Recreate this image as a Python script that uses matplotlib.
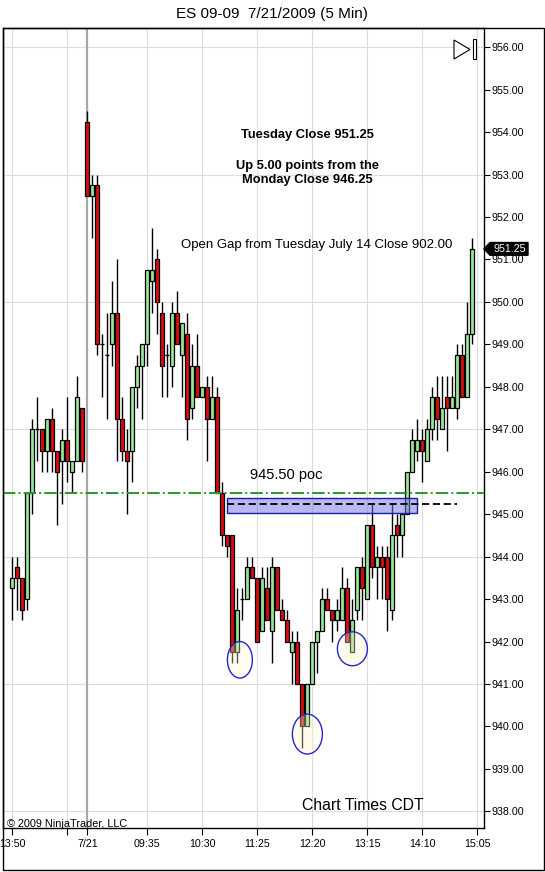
import numpy as np
import matplotlib
matplotlib.use('Agg')
import matplotlib.pyplot as plt
import matplotlib.transforms as mtrans
from matplotlib.patches import Rectangle, Ellipse, Polygon

plt.rcParams['font.family'] = ['Liberation Sans', 'DejaVu Sans']

# ES 09-09, 5 min bars: 13:50 (7/20) .. 15:00 (7/21)
opens = [943.25, 943.75, 943.5, 943.0, 945.5, 947.0, 947.0, 946.5, 947.25, 946.5,
         946.25, 946.75, 946.0, 946.25, 947.5,
         954.25, 952.5, 952.75, 949.0, 948.75, 949.0, 949.75, 947.25, 946.5, 946.5,
         948.0, 948.5, 949.0, 950.5, 951.0, 949.75, 948.75, 948.5, 949.75, 948.75,
         949.25, 947.5, 948.5, 947.75, 948.0, 947.25, 947.75, 945.5, 944.5, 944.5,
         941.75, 943.0, 943.0, 943.75, 943.5, 942.25, 943.25, 942.25, 943.75, 942.75,
         942.5, 941.75, 942.0, 941.0, 940.0, 941.0, 942.0, 942.25, 943.0, 942.75,
         942.5, 942.5, 943.25, 941.75, 942.75, 943.75, 943.0, 944.75, 943.75, 944.0,
         944.0, 942.75, 944.75, 944.5, 945.0, 946.0, 946.5, 946.75, 946.25, 947.0,
         947.75, 947.0, 947.75, 947.5, 947.5, 948.75, 947.75, 949.25]
highs = [944.0, 944.0, 943.5, 945.5, 947.25, 947.75, 947.0, 947.25, 947.5, 946.5,
         947.0, 947.75, 946.25, 948.25, 947.5,
         954.5, 953.0, 953.0, 949.25, 949.75, 950.5, 951.0, 947.75, 947.0, 948.0,
         948.75, 949.0, 950.75, 951.75, 951.25, 950.0, 949.0, 950.0, 950.25, 949.5,
         949.75, 949.0, 949.25, 948.0, 948.25, 948.25, 948.0, 945.75, 944.5, 944.5,
         943.25, 943.25, 944.0, 944.0, 943.5, 943.75, 943.75, 944.0, 943.75, 943.0,
         942.75, 942.25, 942.25, 941.0, 941.0, 942.0, 942.25, 943.25, 943.25, 942.75,
         943.0, 943.75, 943.5, 943.0, 943.75, 944.0, 944.75, 945.25, 944.25, 944.25,
         944.25, 945.25, 945.0, 945.0, 946.0, 947.0, 947.25, 947.0, 947.25, 948.0,
         948.25, 948.25, 948.25, 948.25, 949.0, 949.0, 950.0, 951.5]
lows = [942.5, 942.75, 942.5, 942.75, 945.0, 946.25, 946.0, 946.0, 946.0, 944.75,
        945.25, 945.75, 945.5, 946.25, 946.0,
        952.5, 951.5, 948.75, 947.75, 947.25, 948.5, 946.25, 946.25, 945.0, 945.75,
        947.5, 947.25, 948.5, 949.75, 949.25, 947.75, 947.75, 948.0, 949.0, 947.75,
        946.75, 947.25, 947.75, 947.75, 946.25, 947.25, 945.5, 944.25, 944.0, 941.5,
        941.5, 942.5, 943.0, 943.5, 942.0, 942.25, 942.5, 941.5, 942.75, 942.5,
        942.0, 941.0, 941.0, 939.5, 940.0, 941.0, 941.25, 942.25, 942.75, 942.0,
        942.25, 942.5, 942.0, 941.75, 942.5, 942.5, 943.0, 943.5, 943.0, 943.0,
        942.25, 942.5, 944.0, 944.0, 945.0, 946.0, 946.25, 945.75, 946.25, 946.75,
        946.75, 947.0, 946.5, 947.5, 947.25, 947.75, 947.75, 949.0]
closes = [943.5, 943.5, 942.75, 945.5, 947.0, 947.0, 946.5, 947.25, 946.5, 946.0,
          946.75, 946.25, 946.25, 947.75, 946.25,
          952.5, 952.75, 949.0, 949.0, 948.75, 949.75, 947.25, 946.5, 946.25, 948.0,
          948.5, 949.0, 950.75, 950.75, 950.0, 948.5, 948.75, 949.75, 949.0, 949.5,
          947.25, 948.5, 947.75, 948.0, 947.25, 947.75, 945.5, 944.5, 944.25, 941.75,
          942.75, 943.0, 943.75, 943.5, 942.0, 943.5, 942.5, 943.75, 942.75, 942.5,
          942.0, 942.0, 941.0, 940.0, 941.0, 942.0, 942.25, 943.0, 942.75, 942.5,
          942.75, 943.25, 942.0, 942.5, 943.75, 943.25, 944.75, 943.75, 944.0, 943.75,
          943.0, 944.5, 944.5, 945.0, 946.0, 946.75, 946.75, 946.5, 947.0, 947.75,
          947.25, 947.5, 947.5, 947.75, 948.75, 947.75, 949.25, 951.25]

tick_idx = [0, 11, 15, 27, 38, 49, 60, 71, 82, 93]
tick_lab = ['13:50', '', '7/21', '09:35', '10:30', '11:25', '12:20', '13:15', '14:10', '15:05']
session_idx = 15

poc = 945.50
last_close = 951.25

GREEN = '#96e696'
RED = '#dc0c0c'

W, H = 545, 872
fig = plt.figure(figsize=(W / 100, H / 100), dpi=100)
fig.patch.set_facecolor('white')

def fx(px):
    return px / W

def fy(py):
    return 1 - py / H

ax = fig.add_axes([fx(3), fy(827.7), (484 - 3) / W, (827.7 - 28) / H])
ax.set_xlim(-1.88, 94.32)
ax.set_ylim(937.615, 956.453)

# grid
for p in range(938, 957, 3):
    ax.axhline(p, color='#dcdcdc', lw=0.8, zorder=0)
for t in tick_idx:
    if t == session_idx:
        ax.axvline(t, color='#a8a8a8', lw=1.6, zorder=0)
    else:
        ax.axvline(t, color='#dcdcdc', lw=0.8, zorder=0)

# candles
x = np.arange(len(opens))
o = np.array(opens)
c = np.array(closes)
up = c > o
dn = c < o
eq = c == o
ax.vlines(x, lows, highs, color='black', lw=1.0, zorder=3)
ax.bar(x[up], (c - o)[up], bottom=o[up], width=0.8, color=GREEN,
       edgecolor='black', lw=0.9, zorder=4)
ax.bar(x[dn], (o - c)[dn], bottom=c[dn], width=0.8, color=RED,
       edgecolor='black', lw=0.9, zorder=4)
ax.hlines(o[eq], x[eq] - 0.4, x[eq] + 0.4, color='black', lw=1.0, zorder=4)

# poc line and zone
ax.axhline(poc, color='#2a962a', lw=1.4, ls='-.', zorder=5)
ax.add_patch(Rectangle((43.0, 945.02), 38.0, 0.37, facecolor=(0.45, 0.45, 0.9, 0.5),
                       edgecolor='#1c1ca8', lw=1.0, zorder=6))
ax.hlines(945.25, 43.0, 89.0, color='black', lw=1.3, linestyles=(0, (4, 2)), zorder=7)
ax.text(54.8, 945.93, '945.50 poc', fontsize=10.5, ha='center', va='center', zorder=8)

# circled lows
for cx, cy, ew, eh in [(45.5, 941.57, 5.0, 0.86), (59.0, 939.82, 6.0, 0.94), (68.0, 941.83, 6.0, 0.80)]:
    ax.add_patch(Ellipse((cx, cy), ew, eh, facecolor=(1.0, 0.97, 0.8, 0.35),
                         edgecolor='#2525cc', lw=1.0, zorder=6))

# notes
ax.text(59.0, 953.93, 'Tuesday Close 951.25', fontsize=9.3, fontweight='bold',
        ha='center', va='center', zorder=8)
ax.text(59.0, 953.04, 'Up 5.00 points from the\nMonday Close 946.25', fontsize=9.3,
        fontweight='bold', ha='center', va='center', linespacing=1.2, zorder=8)
ax.text(60.8, 951.34, 'Open Gap from Tuesday July 14 Close 902.00', fontsize=9.5,
        ha='center', va='center', zorder=8)
ax.text(70.1, 938.14, 'Chart Times CDT', fontsize=11.3, ha='center', va='center', zorder=8)
fig.text(fx(7), fy(823.8), '\u00a9 2009 NinjaTrader, LLC', fontsize=7.8, ha='left', va='center')

# axes ticks
ax.yaxis.tick_right()
yt = np.arange(938, 957, 1)
ax.set_yticks(yt)
ax.set_yticklabels(['%.2f' % v for v in yt])
ax.tick_params(axis='y', length=4, labelsize=7.7, pad=1.5, direction='out')
ax.set_xticks(tick_idx)
ax.set_xticklabels(tick_lab)
ax.tick_params(axis='x', length=5, labelsize=7.7, pad=3, direction='out')
for s in ax.spines.values():
    s.set_color('black')
    s.set_linewidth(1.0)

# last price marker
tr = mtrans.blended_transform_factory(ax.transAxes, ax.transData)
hh = 0.15
ax.add_patch(Polygon([(1.0, last_close), (1.0125, last_close + hh), (1.0915, last_close + hh),
                      (1.0915, last_close - hh), (1.0125, last_close - hh)],
                     closed=True, facecolor='black', edgecolor='black', transform=tr, clip_on=False, zorder=9))
ax.text(1.053, last_close, '%.2f' % last_close, color='white', fontsize=7.7, ha='center',
        va='center', transform=tr, clip_on=False, zorder=10)

# play/stop icon in the corner
fig.patches.append(Polygon([(fx(454), fy(40)), (fx(470), fy(49.5)), (fx(454), fy(59))], closed=True,
                           facecolor='white', edgecolor='black', lw=0.8, transform=fig.transFigure))
fig.patches.append(Rectangle((fx(472.5), fy(59)), 3.5 / W, 20 / H, facecolor='white',
                             edgecolor='black', lw=0.8, transform=fig.transFigure))

# outer frame
fig.patches.append(Rectangle((fx(3), fy(870)), (544 - 3) / W, (870 - 28) / H, fill=False,
                             edgecolor='black', lw=1.0, transform=fig.transFigure))

fig.text(fx(272), fy(14), 'ES 09-09  7/21/2009 (5 Min)', fontsize=11, ha='center', va='center')

fig.savefig('out.png', dpi=100)
